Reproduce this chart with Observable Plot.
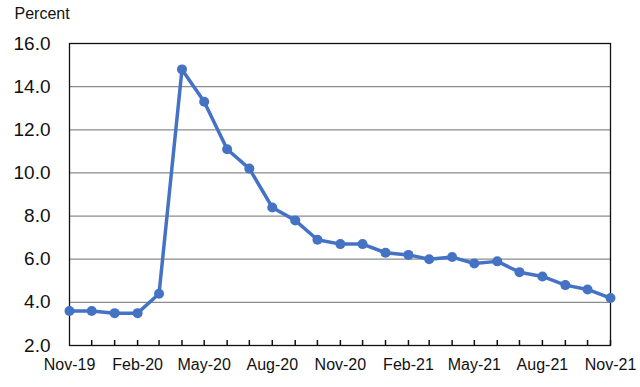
<!DOCTYPE html>
<html><head><meta charset="utf-8">
<script src="https://cdn.jsdelivr.net/npm/d3@7"></script>
<script src="https://cdn.jsdelivr.net/npm/@observablehq/plot@0.6"></script>
<style>
body{margin:0;background:#fff;font-family:"Liberation Sans",Arial,sans-serif;}
</style>
</head><body><div id="chart"></div>
<script>
const months = ["Nov-19","Dec-19","Jan-20","Feb-20","Mar-20","Apr-20","May-20","Jun-20","Jul-20","Aug-20","Sep-20","Oct-20","Nov-20","Dec-20","Jan-21","Feb-21","Mar-21","Apr-21","May-21","Jun-21","Jul-21","Aug-21","Sep-21","Oct-21","Nov-21"];
const rates = [3.6,3.6,3.5,3.5,4.4,14.8,13.3,11.1,10.2,8.4,7.8,6.9,6.7,6.7,6.3,6.2,6.0,6.1,5.8,5.9,5.4,5.2,4.8,4.6,4.2];
const yTicks = [2,4,6,8,10,12,14,16];
const labelMonths = ["Nov-19","Feb-20","May-20","Aug-20","Nov-20","Feb-21","May-21","Aug-21","Nov-21"];

const parse = d3.utcParse("%b-%y");
const data = months.map((m,i)=>({date: parse(m), value: rates[i]}));
const dates = data.map(d=>d.date);
const labelDates = labelMonths.map(parse);

const W = 640, H = 387, mT = 43, mB = 42;
const tickLen = 5;

const chart = Plot.plot({
  width: W, height: H,
  marginLeft: 69, marginRight: 30, marginTop: mT, marginBottom: mB,
  style: {fontFamily: '"Liberation Sans", Arial, sans-serif', background: "#fff"},
  x: {type: "utc", domain: [dates[0], dates[dates.length-1]]},
  y: {domain: [2, 16]},
  marks: [
    Plot.ruleY(yTicks.slice(1,-1), {stroke: "#8c8c8c", strokeWidth: 1.3}),
    Plot.frame({stroke: "#111", strokeWidth: 1.3}),
    Plot.ruleX(dates.slice(1), {x: d => d, insetTop: H - mT - mB - tickLen, stroke: "#111", strokeWidth: 1.5}),
    Plot.axisY(yTicks, {tickSize: 0, tickPadding: 19, fontSize: 19, tickFormat: d=>d.toFixed(1), label: null, fill: "#111"}),
    Plot.axisX(labelDates, {tickSize: 0, tickPadding: 13, fontSize: 16, tickFormat: d3.utcFormat("%b-%y"), label: null, fill: "#111"}),
    Plot.line(data, {x: "date", y: "value", stroke: "#4472C4", strokeWidth: 3.5}),
    Plot.dot(data, {x: "date", y: "value", fill: "#4472C4", r: 5}),
    Plot.text(["Percent"], {frameAnchor: "top-left", dx: -55, dy: -25, fontSize: 16, textAnchor: "start", lineAnchor: "bottom", fill: "#111"})
  ]
});
document.getElementById("chart").appendChild(chart);
</script></body></html>
